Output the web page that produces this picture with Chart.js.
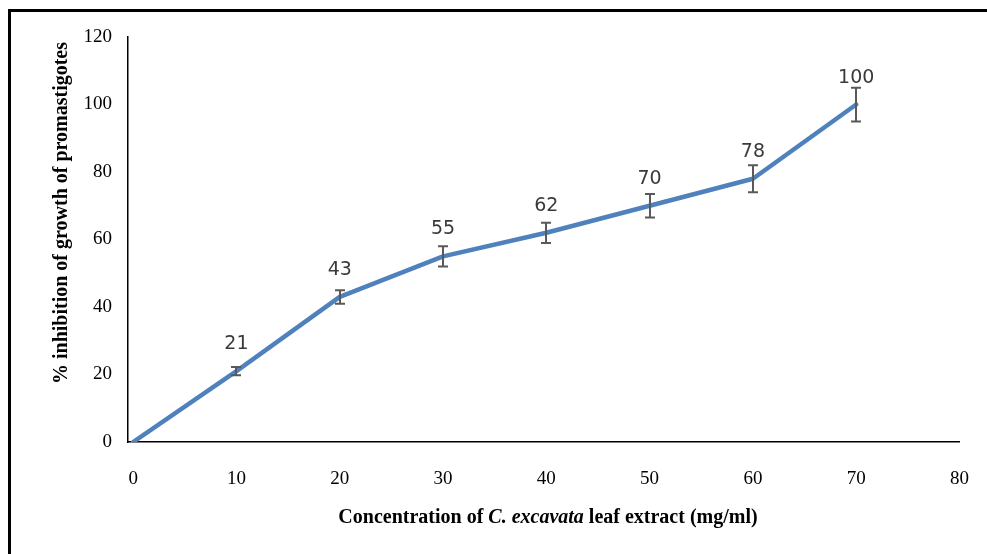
<!DOCTYPE html>
<html>
<head>
<meta charset="utf-8">
<title>Inhibition of promastigote growth</title>
<script src="https://cdn.jsdelivr.net/npm/chart.js@4.4.1/dist/chart.umd.min.js"></script>
<style>
  html, body { margin: 0; padding: 0; background: #ffffff; }
  #wrap { width: 987px; height: 554px; position: relative; }
  canvas { display: block; }
</style>
</head>
<body>
<div id="wrap"><canvas id="chart" width="987" height="554"></canvas></div>
<script>
// Extract concentration (mg/ml) and mean % inhibition with its error margin
const concentrations = [0, 10, 20, 30, 40, 50, 60, 70];
const inhibition = [0, 21, 43, 55, 62, 70, 78, 100];
const errorMargins = [0, 1.2, 2, 3, 3, 3.5, 4, 5];

const xTickValues = [0, 10, 20, 30, 40, 50, 60, 70, 80];
const yTickValues = [0, 20, 40, 60, 80, 100, 120];

const SERIF = '"Liberation Serif", "Times New Roman", serif';
const LABEL_FONT = '"DejaVu Sans", "Open Sans", sans-serif';

// Outer frame, error bars, value labels and the mixed-style axis titles
const decorations = {
  id: 'decorations',
  beforeDraw(chart) {
    const ctx = chart.ctx;
    ctx.save();
    ctx.fillStyle = '#ffffff';
    ctx.fillRect(0, 0, chart.width, chart.height);
    ctx.fillStyle = '#000000';
    ctx.fillRect(8, 9, chart.width - 8, 3);
    ctx.fillRect(8, 9, 3, chart.height - 9);
    ctx.restore();
  },
  afterDatasetsDraw(chart) {
    const ctx = chart.ctx;
    const xs = chart.scales.x, ys = chart.scales.y;
    ctx.save();
    // error bars
    ctx.strokeStyle = '#595959';
    ctx.lineWidth = 2;
    concentrations.forEach((c, i) => {
      const e = errorMargins[i];
      if (!e) return;
      const px = Math.round(xs.getPixelForValue(c));
      const yTop = ys.getPixelForValue(inhibition[i] + e);
      const yBot = ys.getPixelForValue(inhibition[i] - e);
      ctx.beginPath();
      ctx.moveTo(px, yTop); ctx.lineTo(px, yBot);
      ctx.moveTo(px - 5, yTop); ctx.lineTo(px + 5, yTop);
      ctx.moveTo(px - 5, yBot); ctx.lineTo(px + 5, yBot);
      ctx.stroke();
    });
    // value labels
    ctx.fillStyle = '#3a3a3a';
    ctx.font = '19px ' + LABEL_FONT;
    ctx.textAlign = 'center';
    ctx.textBaseline = 'alphabetic';
    concentrations.forEach((c, i) => {
      if (!inhibition[i]) return;
      const px = xs.getPixelForValue(c);
      const py = ys.getPixelForValue(inhibition[i]);
      ctx.fillText(String(inhibition[i]), px, py - 22);
    });
    ctx.restore();
  },
  afterDraw(chart) {
    const ctx = chart.ctx;
    ctx.save();
    ctx.fillStyle = '#000000';
    ctx.textBaseline = 'middle';
    // x axis title with italic species name
    const parts = [
      { t: 'Concentration of ', f: 'bold 20px ' + SERIF },
      { t: 'C. excavata', f: 'italic bold 20px ' + SERIF },
      { t: ' leaf extract (mg/ml)', f: 'bold 20px ' + SERIF }
    ];
    let total = 0;
    parts.forEach(p => { ctx.font = p.f; p.w = ctx.measureText(p.t).width; total += p.w; });
    let x = 548 - total / 2;
    ctx.textAlign = 'left';
    parts.forEach(p => { ctx.font = p.f; ctx.fillText(p.t, x, 518); x += p.w; });
    // y axis title
    ctx.translate(62, 213);
    ctx.rotate(-Math.PI / 2);
    ctx.textAlign = 'center';
    ctx.font = 'bold 20px ' + SERIF;
    ctx.fillText('% inhibition of growth of promastigotes', 0, 0);
    ctx.restore();
  }
};

new Chart(document.getElementById('chart'), {
  type: 'scatter',
  data: {
    datasets: [{
      data: concentrations.map((c, i) => ({ x: c, y: inhibition[i] })),
      showLine: true,
      borderColor: '#4F81BD',
      borderWidth: 4.5,
      pointRadius: 0,
      tension: 0,
      borderCapStyle: 'round',
      borderJoinStyle: 'round'
    }]
  },
  options: {
    responsive: false,
    animation: false,
    devicePixelRatio: 1,
    layout: { padding: { top: 37, right: 11, bottom: 0, left: 0 } },
    plugins: { legend: { display: false }, tooltip: { enabled: false } },
    scales: {
      x: {
        type: 'linear',
        min: -0.5,
        max: 80,
        afterBuildTicks: s => { s.ticks = xTickValues.map(v => ({ value: v })); },
        afterFit: s => { s.height = 112; },
        grid: { display: false },
        border: { display: true, color: '#000000', width: 1.5 },
        ticks: { color: '#000000', font: { family: SERIF, size: 19 }, padding: 18, maxRotation: 0 }
      },
      y: {
        type: 'linear',
        min: 0,
        max: 120,
        afterBuildTicks: s => { s.ticks = yTickValues.map(v => ({ value: v })); },
        afterFit: s => { s.width = 128; },
        grid: { display: false },
        border: { display: true, color: '#000000', width: 1.5 },
        ticks: { color: '#000000', font: { family: SERIF, size: 19 }, padding: 8 }
      }
    }
  },
  plugins: [decorations]
});
</script>
</body>
</html>
